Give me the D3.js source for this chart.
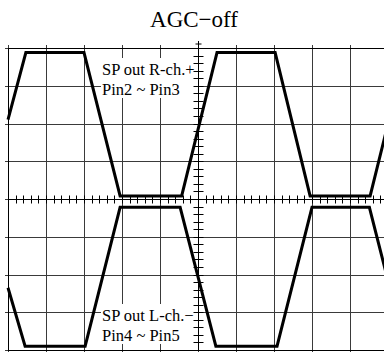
<!DOCTYPE html>
<html>
<head>
<meta charset="utf-8">
<script src="https://cdn.jsdelivr.net/npm/d3@7"></script>
<style>
  html, body { margin: 0; padding: 0; background: #fff; }
  svg { display: block; }
</style>
</head>
<body>
<div id="chart"></div>
<script>
// Scope screen: 10 horizontal x 8 vertical divisions
const chartTitle = "AGC\u2212off";
const xDivs = [0, 1, 2, 3, 4, 5, 6, 7, 8, 9, 10];
const yDivs = [-4, -3, -2, -1, 0, 1, 2, 3, 4];

// Upper trace: SP out R-ch.+ (Pin2 ~ Pin3)
const rChX = [0, 0.47, 2.0, 2.95, 4.57, 5.5, 7.03, 7.95, 9.53, 10];
const rChY = [2.1, 3.88, 3.88, 0.08, 0.08, 3.88, 3.88, 0.08, 0.08, 1.99];

// Lower trace: SP out L-ch.− (Pin4 ~ Pin5)
const lChX = [0, 0.45, 2.03, 2.95, 4.53, 5.47, 7.08, 8.0, 9.51, 10];
const lChY = [-2.35, -3.9, -3.9, -0.22, -0.22, -3.9, -3.9, -0.22, -0.22, -2.16];

const rLabel = ["SP out R-ch.+", "Pin2 ~ Pin3"];
const lLabel = ["SP out L-ch.\u2212", "Pin4 ~ Pin5"];

const W = 384, H = 352;
const svg = d3.select("#chart").append("svg")
  .attr("width", W).attr("height", H);

const x = d3.scaleLinear().domain([0, 10]).range([8, 388]);
const y = d3.scaleLinear().domain([-4, 4]).range([350, 48]);
const px = v => Math.round(v) + 0.5;

// Title
svg.append("text")
  .attr("x", 194).attr("y", 27)
  .attr("text-anchor", "middle")
  .attr("font-family", "Liberation Serif, Times New Roman, serif")
  .attr("font-size", 23)
  .attr("fill", "#000")
  .text(chartTitle);

// Graticule
const grid = svg.append("g").attr("stroke", "#3a3a3a").attr("stroke-width", 1);
grid.selectAll("line.v").data(xDivs).join("line")
  .attr("class", "v")
  .attr("x1", d => px(x(d))).attr("x2", d => px(x(d)))
  .attr("y1", y(4) - 3).attr("y2", y(-4) + 3);
grid.selectAll("line.h").data(yDivs).join("line")
  .attr("class", "h")
  .attr("y1", d => px(y(d))).attr("y2", d => px(y(d)))
  .attr("x1", x(0) - 3).attr("x2", x(10) + 3);

// Outer frame
svg.append("rect")
  .attr("x", px(x(0))).attr("y", px(y(4)))
  .attr("width", Math.round(x(10)) - Math.round(x(0)))
  .attr("height", Math.round(y(-4)) - Math.round(y(4)))
  .attr("fill", "none").attr("stroke", "#000").attr("stroke-width", 1);

// Label backgrounds and text
const font = "Liberation Serif, Times New Roman, serif";
function label(lines, top) {
  const g = svg.append("g");
  g.append("rect")
    .attr("x", 101).attr("y", top)
    .attr("width", x(5) - 101 - 1).attr("height", 40)
    .attr("fill", "#fff");
  lines.forEach((t, i) => {
    g.append("text")
      .attr("x", 102).attr("y", top + 17 + i * 20)
      .attr("font-family", font).attr("font-size", 16.5)
      .attr("fill", "#000")
      .text(t);
  });
}
label(rLabel, 58);
label(lLabel, 304);

// Center axes with minor ticks
const minorX = d3.range(0, 50.001, 1).map(i => i / 5);
const minorY = d3.range(0, 40.001, 1).map(i => -4 + i / 5);
const axes = svg.append("g").attr("stroke", "#000").attr("stroke-width", 1);
axes.append("line")
  .attr("x1", x(0)).attr("x2", x(10))
  .attr("y1", px(y(0))).attr("y2", px(y(0)));
axes.append("line")
  .attr("x1", px(x(5))).attr("x2", px(x(5)))
  .attr("y1", y(4) - 7).attr("y2", y(-4));
axes.selectAll("line.mx").data(minorX).join("line")
  .attr("class", "mx")
  .attr("x1", d => px(x(d))).attr("x2", d => px(x(d)))
  .attr("y1", px(y(0)) - 4).attr("y2", px(y(0)) + 4);
axes.selectAll("line.my").data(minorY).join("line")
  .attr("class", "my")
  .attr("y1", d => px(y(d))).attr("y2", d => px(y(d)))
  .attr("x1", px(x(5)) - 5).attr("x2", px(x(5)) + 5);
axes.append("line")
  .attr("x1", px(x(5)) - 3).attr("x2", px(x(5)) + 3)
  .attr("y1", y(4) - 4).attr("y2", y(4) - 4);

// Traces
const line = d3.line().x(d => x(d[0])).y(d => y(d[1]));
const traces = [d3.zip(rChX, rChY), d3.zip(lChX, lChY)];
svg.append("g").selectAll("path").data(traces).join("path")
  .attr("d", line)
  .attr("fill", "none")
  .attr("stroke", "#000")
  .attr("stroke-width", 3)
  .attr("stroke-linejoin", "miter");
</script>
</body>
</html>
